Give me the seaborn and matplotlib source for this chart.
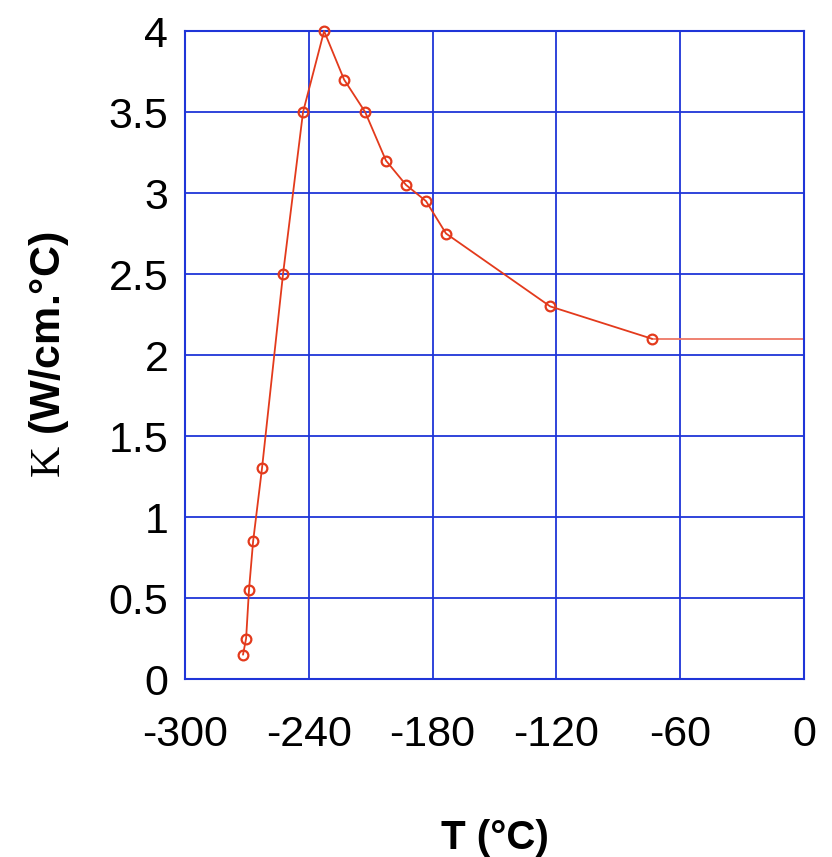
import matplotlib
matplotlib.use("Agg")
import matplotlib.pyplot as plt
import seaborn as sns
import pandas as pd

T_vals = [-271.9, -270.4, -269.0, -267.0, -262.7, -252.5, -242.8, -232.6,
          -222.9, -212.7, -202.6, -192.9, -183.2, -173.5, -123.0, -73.6]
K_vals = [0.15, 0.25, 0.55, 0.85, 1.3, 2.5, 3.5, 4.0,
          3.7, 3.5, 3.2, 3.05, 2.95, 2.75, 2.3, 2.1]
tail_T = [-73.6, 0.0]
tail_K = [2.1, 2.1]
x_ticks = [-300, -240, -180, -120, -60, 0]
y_ticks = [0, 0.5, 1, 1.5, 2, 2.5, 3, 3.5, 4]
y_tick_labels = ["0", "0.5", "1", "1.5", "2", "2.5", "3", "3.5", "4"]

sns.set_style("white")
plt.rcParams['font.family'] = ['Liberation Sans', 'DejaVu Sans']
plt.rcParams['mathtext.fontset'] = 'custom'
plt.rcParams['mathtext.rm'] = 'Liberation Serif'

df = pd.DataFrame({"T": T_vals, "K": K_vals})
tail = pd.DataFrame({"T": tail_T, "K": tail_K})

fig = plt.figure(figsize=(8.32, 8.57), dpi=100)
ax = fig.add_axes([0.2224, 0.2077, 0.9663 - 0.2224, 0.9638 - 0.2077])

blue = "#1f35d8"
red = "#e33a1c"

sns.lineplot(data=tail, x="T", y="K", ax=ax, color="#ee7766", lw=1.3, clip_on=False)
sns.lineplot(data=df, x="T", y="K", ax=ax, color=red, lw=1.3, marker="o",
             markersize=7, markerfacecolor="none", markeredgecolor=red,
             markeredgewidth=1.6, clip_on=False, zorder=5)

ax.set_xlim(-300, 0)
ax.set_ylim(0, 4)
ax.set_xticks(x_ticks)
ax.set_xticklabels([str(v) for v in x_ticks])
ax.set_yticks(y_ticks)
ax.set_yticklabels(y_tick_labels)
ax.grid(True, color=blue, lw=1.3)
for s in ax.spines.values():
    s.set_color(blue)
    s.set_linewidth(1.5)
ax.tick_params(axis='both', labelsize=31, colors='black', length=0)
ax.tick_params(axis='x', pad=26)
ax.tick_params(axis='y', pad=12)
ax.set_xlabel("T (°C)", fontsize=29, fontweight='bold', labelpad=46, color='black')
ax.set_ylabel(r"$\mathrm{K}$ (W/cm.°C)", fontsize=31, fontweight='bold', labelpad=27, color='black')

fig.savefig("out.png", dpi=100)
